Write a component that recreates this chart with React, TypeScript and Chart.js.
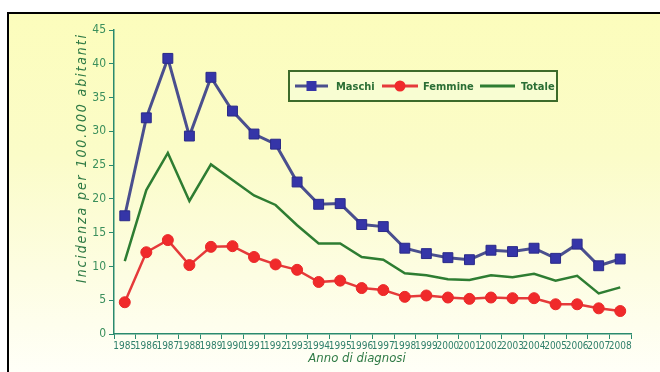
import React, { useEffect, useRef } from 'react';
import { Chart, registerables } from 'chart.js';

Chart.register(...registerables);

const years = ['1985', '1986', '1987', '1988', '1989', '1990', '1991', '1992', '1993', '1994', '1995', '1996', '1997', '1998', '1999', '2000', '2001', '2002', '2003', '2004', '2005', '2006', '2007', '2008'];
const maschi = [17.5, 32.0, 40.8, 29.3, 38.0, 33.0, 29.6, 28.1, 22.5, 19.2, 19.3, 16.2, 15.9, 12.7, 11.9, 11.3, 11.0, 12.4, 12.2, 12.7, 11.2, 13.3, 10.1, 11.1];
const femmine = [4.7, 12.1, 13.9, 10.2, 12.9, 13.0, 11.4, 10.3, 9.5, 7.7, 7.9, 6.8, 6.5, 5.5, 5.7, 5.4, 5.2, 5.4, 5.3, 5.3, 4.4, 4.4, 3.8, 3.4];
const totale = [10.8, 21.3, 26.8, 19.7, 25.1, 22.8, 20.5, 19.1, 16.1, 13.4, 13.4, 11.4, 11.0, 9.0, 8.7, 8.1, 8.0, 8.7, 8.4, 8.9, 7.9, 8.6, 6.0, 6.9];
const seriesLabels = ['Maschi', 'Femmine', 'Totale'];
const yMin = 0;
const yMax = 45;
const yStep = 5;
const yTitle = 'Incidenza per 100.000 abitanti';
const xTitle = 'Anno di diagnosi';

const FONT = '"Liberation Sans Narrow", "DejaVu Sans Condensed", "Liberation Sans", sans-serif';
const AXIS = '#2a8a6e';
const LABEL = '#3a8f5c';
const TITLE = '#2f7a45';
const BLUE_LINE = '#4a4f8e';
const BLUE_PT = '#3535a8';
const RED = '#f02a2a';
const GREEN = '#2e7d32';

function fitText(ctx: CanvasRenderingContext2D, text: string, target: number) {
  (ctx as any).letterSpacing = '0px';
  const w = ctx.measureText(text).width;
  const sp = Math.max(0, (target - w) / text.length);
  (ctx as any).letterSpacing = sp.toFixed(2) + 'px';
}

const overlayPlugin = {
  id: 'overlay',
  afterDraw(chart: any) {
    const ctx: CanvasRenderingContext2D = chart.ctx;
    // y title
    ctx.save();
    ctx.translate(82, 158);
    ctx.rotate(-Math.PI / 2);
    ctx.font = 'italic 14px ' + FONT;
    ctx.fillStyle = TITLE;
    ctx.textAlign = 'center';
    ctx.textBaseline = 'middle';
    fitText(ctx, yTitle, 250);
    ctx.fillText(yTitle, 0, 0);
    ctx.restore();
    // x title
    ctx.save();
    ctx.font = 'italic 13px ' + FONT;
    ctx.fillStyle = TITLE;
    ctx.textAlign = 'center';
    ctx.textBaseline = 'middle';
    fitText(ctx, xTitle, 92);
    ctx.fillText(xTitle, 357, 359);
    ctx.restore();
    // legend box
    ctx.save();
    ctx.fillStyle = '#f8fdd2';
    ctx.strokeStyle = '#3d6b2a';
    ctx.lineWidth = 2;
    ctx.fillRect(289, 71, 268, 30);
    ctx.strokeRect(289, 71, 268, 30);
    const ly = 86;
    const ds = chart.data.datasets;
    const items = [
      { x0: 295, x1: 328, tx: 336 },
      { x0: 382, x1: 418, tx: 423 },
      { x0: 480, x1: 515, tx: 521 },
    ];
    items.forEach((it, i) => {
      const d = ds[i];
      ctx.strokeStyle = d.borderColor;
      ctx.lineWidth = 3;
      ctx.beginPath();
      ctx.moveTo(it.x0, ly);
      ctx.lineTo(it.x1, ly);
      ctx.stroke();
      const cx = (it.x0 + it.x1) / 2;
      if (d.pointStyle === 'rect') {
        ctx.fillStyle = d.pointBackgroundColor;
        ctx.fillRect(cx - 5, ly - 5, 10, 10);
      } else if (d.pointRadius > 0) {
        ctx.fillStyle = d.pointBackgroundColor;
        ctx.beginPath();
        ctx.arc(cx, ly, 5.5, 0, Math.PI * 2);
        ctx.fill();
      }
      ctx.fillStyle = '#2a6e34';
      ctx.font = 'bold 11px ' + FONT;
      ctx.textAlign = 'left';
      ctx.textBaseline = 'middle';
      ctx.fillText(d.label, it.tx, ly + 1);
    });
    ctx.restore();
  },
};

export default function App() {
  const ref = useRef<HTMLCanvasElement>(null);
  useEffect(() => {
    if (!ref.current) return;
    const chart = new Chart(ref.current, {
      type: 'line',
      data: {
        labels: years,
        datasets: [
          {
            label: seriesLabels[0],
            data: maschi,
            borderColor: BLUE_LINE,
            borderWidth: 3,
            pointStyle: 'rect',
            pointRadius: 7,
            pointBackgroundColor: BLUE_PT,
            pointBorderColor: '#2a2a88',
            pointBorderWidth: 1,
            tension: 0,
          },
          {
            label: seriesLabels[1],
            data: femmine,
            borderColor: '#e53a3a',
            borderWidth: 2.5,
            pointStyle: 'circle',
            pointRadius: 5.5,
            pointBackgroundColor: RED,
            pointBorderColor: '#e82828',
            pointBorderWidth: 1,
            tension: 0,
          },
          {
            label: seriesLabels[2],
            data: totale,
            borderColor: GREEN,
            borderWidth: 2.5,
            pointRadius: 0,
            tension: 0,
          },
        ],
      },
      options: {
        responsive: false,
        maintainAspectRatio: false,
        animation: false,
        devicePixelRatio: 1,
        layout: { padding: { left: 0, top: 30, right: 29, bottom: 0 } },
        plugins: {
          legend: { display: false },
          tooltip: { enabled: false },
        },
        scales: {
          x: {
            type: 'category',
            offset: true,
            afterFit: (s: any) => { s.height = 38; },
            grid: { offset: true, drawOnChartArea: false, drawTicks: true, tickLength: 5, color: AXIS, lineWidth: 1 },
            border: { color: AXIS, width: 1.5 },
            ticks: { color: '#2f7f6a', font: { family: FONT, size: 10 }, padding: 1, maxRotation: 0, minRotation: 0, autoSkip: false },
          },
          y: {
            min: yMin,
            max: yMax,
            afterFit: (s: any) => { s.width = 114; },
            grid: { drawOnChartArea: false, drawTicks: true, tickLength: 5, color: AXIS, lineWidth: 1 },
            border: { color: AXIS, width: 1.5 },
            ticks: { stepSize: yStep, color: LABEL, font: { family: FONT, size: 12 }, padding: 3 },
          },
        },
      },
      plugins: [overlayPlugin],
    } as any);
    return () => chart.destroy();
  }, []);
  return (
    <div style={{ position: 'fixed', left: 0, top: 0, width: 660, height: 372, background: '#ffffff', overflow: 'hidden' }}>
      <div
        style={{
          position: 'absolute',
          left: 7,
          top: 12,
          width: 660,
          height: 400,
          borderLeft: '2px solid #000',
          borderTop: '2px solid #000',
          background: 'linear-gradient(to bottom, #fcfdbc 0%, #fbfcc8 35%, #fdfde2 65%, #fffff8 90%, #ffffff 100%)',
        }}
      />
      <canvas ref={ref} width={660} height={372} style={{ position: 'absolute', left: 0, top: 0, width: 660, height: 372 }} />
    </div>
  );
}
